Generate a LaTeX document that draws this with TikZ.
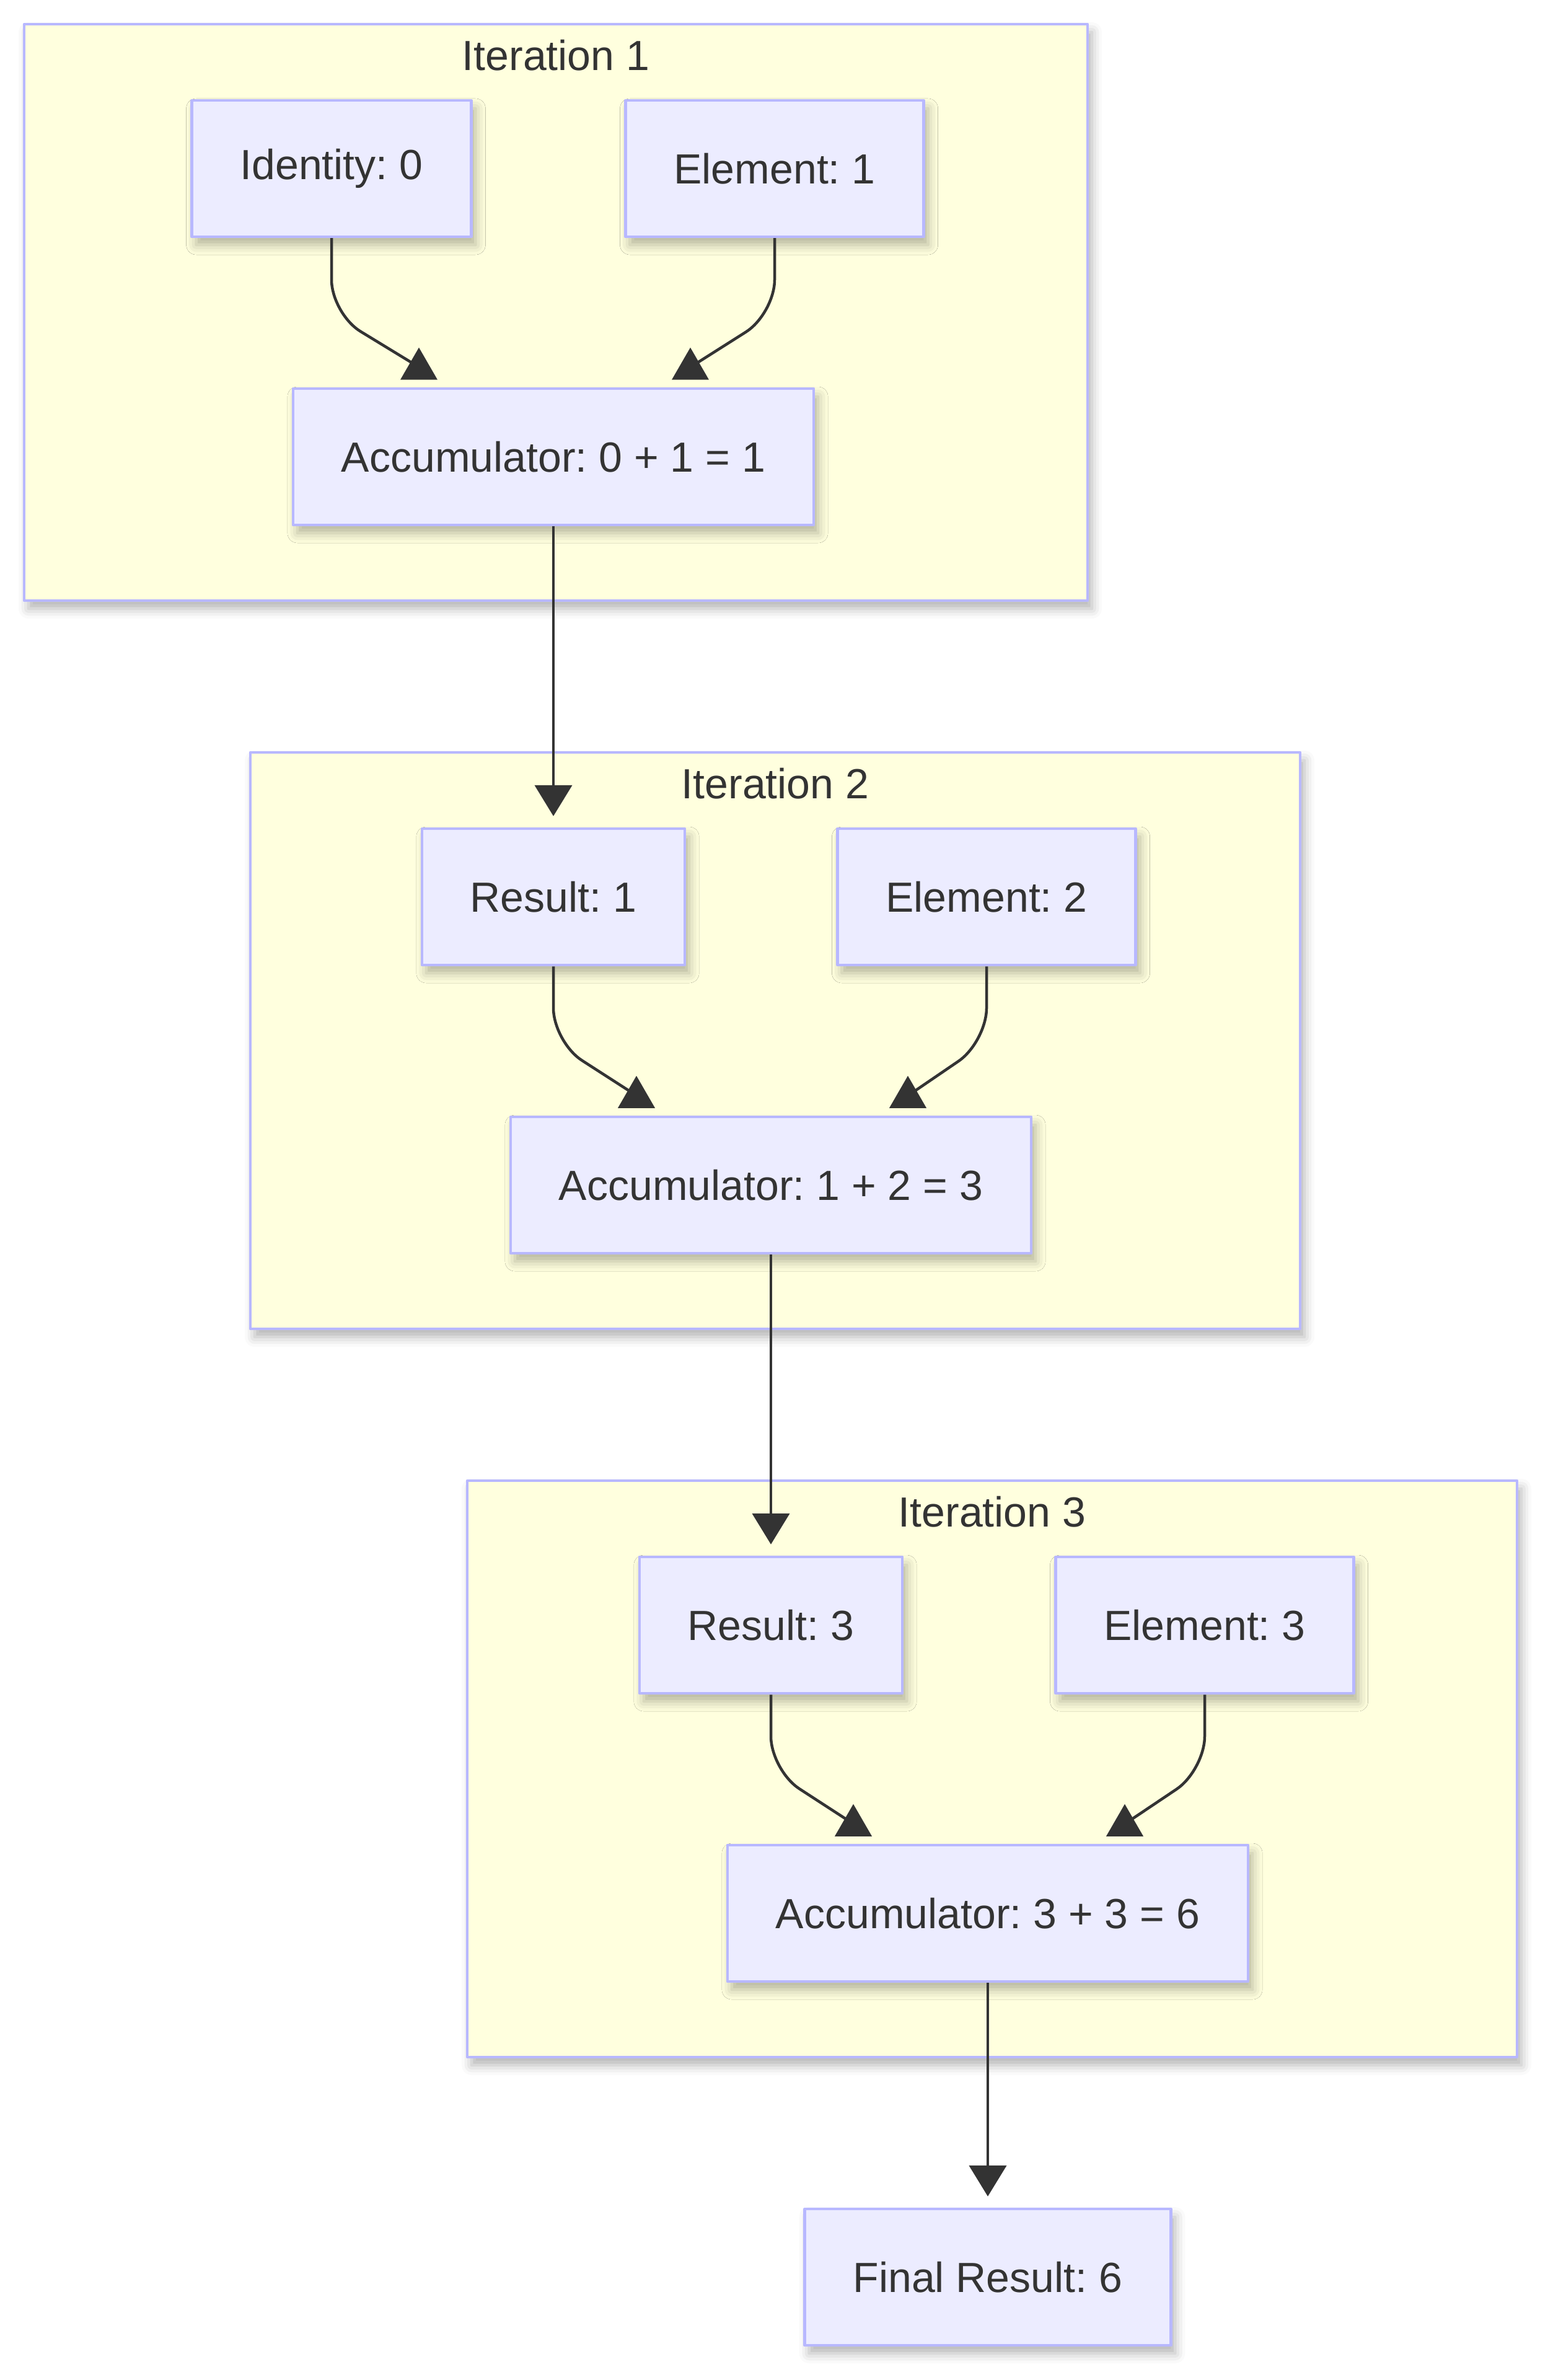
\documentclass[tikz,border=0pt]{standalone}
\usepackage{fontspec}
\setmainfont{Liberation Sans}
\usetikzlibrary{arrows.meta,calc,shadows.blur}
\definecolor{boxfill}{HTML}{ECECFF}
\definecolor{boxline}{HTML}{B8B8FF}
\definecolor{clusterfill}{HTML}{FFFFDE}
\definecolor{inkgray}{HTML}{333333}
\newcommand{\diagfont}{\fontsize{19.35pt}{23pt}\selectfont}
\frenchspacing
\begin{document}
\begin{tikzpicture}[line join=round, >={Triangle[length=0.5cm,width=0.6cm]}]
    \tikzset{softshadow/.style={blur shadow={shadow xshift=0.07cm, shadow yshift=-0.13cm, shadow opacity=30, shadow blur radius=0.16cm}}}
    \tikzset{box/.style={draw=boxline, fill=boxfill, line width=0.045cm, minimum height=2.2cm, inner xsep=0.78cm, inner ysep=0pt, text=inkgray, font=\diagfont, softshadow}}
    \tikzset{cluster/.style={draw=boxline, fill=clusterfill, line width=0.045cm, minimum height=9.3cm, inner sep=0pt, softshadow}}
    \tikzset{clustertitle/.style={text=inkgray, font=\diagfont, inner sep=0pt}}
    \tikzset{link/.style={draw=inkgray, line width=0.045cm}}
    \tikzset{uptip/.pic={\fill[inkgray] (-0.3,0) -- (0.3,0) -- (0,0.52) -- cycle;}}
    \useasboundingbox (0,0) rectangle (24.97,-38.40);
    \node[cluster, minimum width=17.16cm] (iter1) at (8.97,-5.04) {};
    \node[cluster, minimum width=16.94cm] (iter2) at (12.51,-16.79) {};
    \node[cluster, minimum width=16.94cm] (iter3) at (16.01,-28.54) {};
    \node[clustertitle] (iter1title) at ([yshift=-0.52cm]iter1.north) {Iteration 1};
    \node[clustertitle] (iter2title) at ([yshift=-0.52cm]iter2.north) {Iteration 2};
    \node[clustertitle] (iter3title) at ([yshift=-0.52cm]iter3.north) {Iteration 3};
    \node[box] (ident) at (5.35,-2.72) {Identity: 0};
    \node[box] (elem1) at (12.50,-2.72) {Element: 1};
    \node[box] (acc1) at (8.93,-7.37) {Accumulator: 0 + 1 = 1};
    \node[box] (res1) at (8.93,-14.47) {Result: 1};
    \node[box] (elem2) at (15.92,-14.47) {Element: 2};
    \node[box] (acc2) at (12.44,-19.12) {Accumulator: 1 + 2 = 3};
    \node[box] (res2) at (12.44,-26.22) {Result: 3};
    \node[box] (elem3) at (19.44,-26.22) {Element: 3};
    \node[box] (acc3) at (15.94,-30.87) {Accumulator: 3 + 3 = 6};
    \node[box] (final) at (15.94,-36.74) {Final Result: 6};
    \coordinate (acc1l) at ($(acc1.north)+(-2.17,0.12)$);
    \coordinate (acc1r) at ($(acc1.north)+(2.21,0.12)$);
    \coordinate (acc2l) at ($(acc2.north)+(-2.17,0.12)$);
    \coordinate (acc2r) at ($(acc2.north)+(2.21,0.12)$);
    \coordinate (acc3l) at ($(acc3.north)+(-2.17,0.12)$);
    \coordinate (acc3r) at ($(acc3.north)+(2.21,0.12)$);
    \draw[link, rounded corners=0.55cm] (ident.south) -- ++(0,-1.22) -- ($(acc1l)+(-0.09,0.26)$);
    \draw[link, rounded corners=0.55cm] (elem1.south) -- ++(0,-1.22) -- ($(acc1r)+(0.09,0.26)$);
    \draw[link, rounded corners=0.55cm] (res1.south) -- ++(0,-1.22) -- ($(acc2l)+(-0.09,0.26)$);
    \draw[link, rounded corners=0.55cm] (elem2.south) -- ++(0,-1.22) -- ($(acc2r)+(0.09,0.26)$);
    \draw[link, rounded corners=0.55cm] (res2.south) -- ++(0,-1.22) -- ($(acc3l)+(-0.09,0.26)$);
    \draw[link, rounded corners=0.55cm] (elem3.south) -- ++(0,-1.22) -- ($(acc3r)+(0.09,0.26)$);
    \pic at (acc1l) {uptip}; \pic at (acc1r) {uptip};
    \pic at (acc2l) {uptip}; \pic at (acc2r) {uptip};
    \pic at (acc3l) {uptip}; \pic at (acc3r) {uptip};
    \draw[link, ->] (acc1.south) -- ([yshift=0.18cm]res1.north);
    \draw[link, ->] (acc2.south) -- ([yshift=0.18cm]res2.north);
    \draw[link, ->] (acc3.south) -- ([yshift=0.18cm]final.north);
\end{tikzpicture}
\end{document}
